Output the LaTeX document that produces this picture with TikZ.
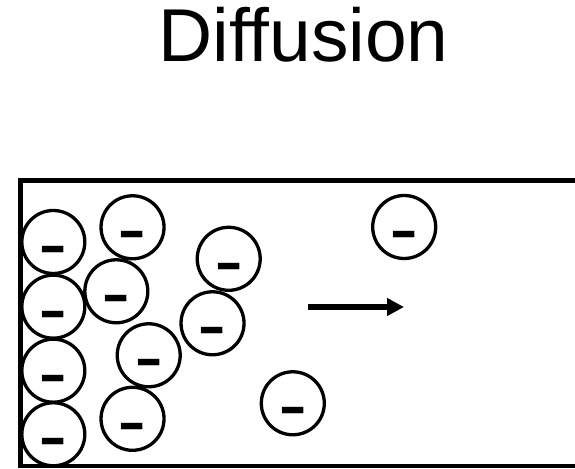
\documentclass[tikz,border=0pt]{standalone}
\usepackage{fontspec}
\setmainfont{Liberation Sans}
\newfontfamily\chargefont{DejaVu Sans}
\usetikzlibrary{arrows.meta}

\begin{document}
\begin{tikzpicture}[
	ion/.style={circle, draw, line width=2.35pt, minimum size=1.575cm, inner sep=0pt},
	charge/.style={inner sep=0pt, font=\chargefont\fontsize{25}{26}\selectfont\bfseries, xscale=1.55, yscale=1.45, transform shape},
	wall/.style={line width=3.55pt},
	>={Triangle[length=12pt, width=12pt]}]
	\useasboundingbox (0,0) rectangle (14.375,11.725);
	\node[anchor=base, font=\fontsize{53.3}{60}\selectfont] (title) at (7.59,10.175) {Diffusion};
	% container, open on the right
	\draw[wall] (14.375,7.21) -- (0.52,7.21) -- (0.52,0.075) -- (14.375,0.075);
	% ions
	\foreach \x/\y [count=\i] in {1.333/5.675, 1.333/4.058, 1.333/2.458, 1.333/0.868,
		3.313/6.043, 2.908/4.443, 3.718/2.843, 3.313/1.255,
		5.718/5.255, 5.313/3.643, 10.105/6.05, 7.32/1.643}{
		\node[ion] (ion\i) at (\x,\y) {};
		\node[charge] (q\i) at ([yshift=-0.32cm]ion\i.center) {–};
	}
	% direction of net flow
	\coordinate (flowstart) at (7.7,4.05);
	\coordinate (flowend) at (10.1,4.05);
	\draw[->, line width=4pt] (flowstart) -- (flowend);
\end{tikzpicture}
\end{document}
